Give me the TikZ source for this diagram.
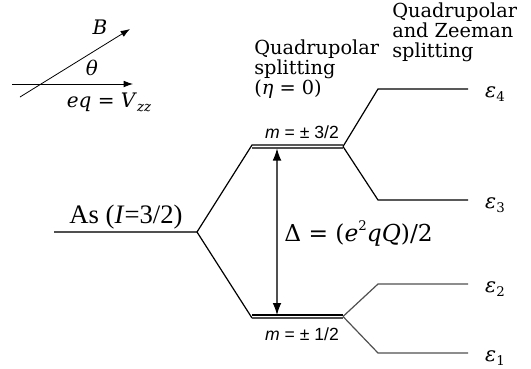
\documentclass[tikz,border=0pt]{standalone}
\usepackage{fontspec}
\setmainfont{DejaVu Serif}
\newfontfamily\asfont{Liberation Serif}
\newfontfamily\mfont{Liberation Sans}
\usetikzlibrary{arrows.meta, calc}
\definecolor{lvlgray}{HTML}{505050}
\tikzset{
  level/.style={line width=0.9pt, black},
  graylevel/.style={line width=0.9pt, lvlgray},
  arrow/.style={-{Latex[length=7pt, width=5pt]}, line width=0.6pt},
  darrow/.style={{Latex[length=9pt, width=6.5pt, color=black]}-{Latex[length=9pt, width=6.5pt, color=black]}, line width=0.8pt, lvlgray},
  note/.style={align=left, inner sep=0pt, font=\fontsize{14.5}{15}\selectfont},
  sym/.style={inner sep=0pt, font=\fontsize{15}{18}\selectfont},
  energy/.style={inner sep=0pt, font=\fontsize{15.5}{18}\selectfont},
  mlabel/.style={inner sep=0pt, font=\mfont\fontsize{13.2}{15}\selectfont},
  every node/.style={inner sep=0pt}
}
\newcommand{\lowsub}[1]{\raisebox{-0.45ex}{\fontsize{10}{12}\selectfont #1}}

\begin{document}
\begin{tikzpicture}[x=0.75pt, y=-0.75pt]
  \useasboundingbox (0,0) rectangle (531,368);

  % field and gradient axes
  \coordinate (ax-l) at (12,84);
  \coordinate (ax-r) at (133,84);
  \coordinate (b-l) at (20,97);
  \coordinate (b-r) at (130,29);
  \draw[arrow] (ax-l) -- (ax-r);
  \draw[arrow] (b-l) -- (b-r);
  \node[sym, anchor=base] (lblB) at (100,34) {\textit{B}};
  \node[sym, anchor=base] (lbltheta) at (92,75) {\textit{θ}};
  \node[sym, anchor=base] (lbleq) at (109,107) {\textit{eq} = \textit{V}\lowsub{\textit{zz}}};

  % levels
  \coordinate (as-l) at (54,232);
  \coordinate (as-r) at (197,232);
  \coordinate (up-l) at (252,145);
  \coordinate (up-r) at (343,145);
  \coordinate (lo-l) at (252,315);
  \coordinate (lo-r) at (343,315);
  \coordinate (e4-l) at (378,89);
  \coordinate (e4-r) at (468,89);
  \coordinate (e3-l) at (378,200);
  \coordinate (e3-r) at (468,200);
  \coordinate (e2-l) at (378,284);
  \coordinate (e2-r) at (468,284);
  \coordinate (e1-l) at (378,353);
  \coordinate (e1-r) at (468,353);

  \draw[graylevel] (as-l) -- (as-r);
  \draw[level] (as-r) -- (up-l) -- (up-r);
  \draw[graylevel] ($(up-l)+(0,3)$) -- ($(up-r)+(0,3)$);
  \draw[level] (lo-l) -- (lo-r);
  \draw[level] (as-r) -- ($(lo-l)+(0,3)$);
  \draw[graylevel] ($(lo-l)+(0,3)$) -- ($(lo-r)+(0,3)$);

  \draw[level] ($(up-r)+(0,1.5)$) -- (e4-l) -- (e4-r);
  \draw[level] ($(up-r)+(0,1.5)$) -- (e3-l) -- (e3-r);
  \draw[graylevel] ($(lo-r)+(0,1.5)$) -- (e2-l) -- (e2-r);
  \draw[graylevel] ($(lo-r)+(0,1.5)$) -- (e1-l) -- (e1-r);

  % splitting
  \coordinate (d-top) at (277,148.5);
  \coordinate (d-bot) at (277,315);
  \draw[darrow] (d-top) -- (d-bot);

  \node[anchor=base, font=\asfont\fontsize{20}{24}\selectfont] (lblas) at (126,223) {As (\textit{I}=3/2)};
  \node[anchor=base west, font=\fontsize{17.5}{21}\selectfont] (lbldelta) at (284,241) {Δ = (\textit{e}\raisebox{0.9ex}{\fontsize{10}{12}\selectfont 2}\textit{qQ})/2};
  \node[mlabel, anchor=base] (lblm32) at (302,138) {\textit{m} = ± 3/2};
  \node[mlabel, anchor=base] (lblm12) at (302,340) {\textit{m} = ± 1/2};

  \node[energy, anchor=base] (lble4) at (495,97) {\textit{ε}\lowsub{4}};
  \node[energy, anchor=base] (lble3) at (495,208) {\textit{ε}\lowsub{3}};
  \node[energy, anchor=base] (lble2) at (495,292) {\textit{ε}\lowsub{2}};
  \node[energy, anchor=base] (lble1) at (495,361) {\textit{ε}\lowsub{1}};

  \node[note, anchor=north west] (lblquad) at (254,39.5) {Quadrupolar\\splitting\\(\textit{η} = 0)};
  \node[note, anchor=north west] (lblzee) at (392,2.5) {Quadrupolar\\and Zeeman\\splitting};
\end{tikzpicture}
\end{document}
